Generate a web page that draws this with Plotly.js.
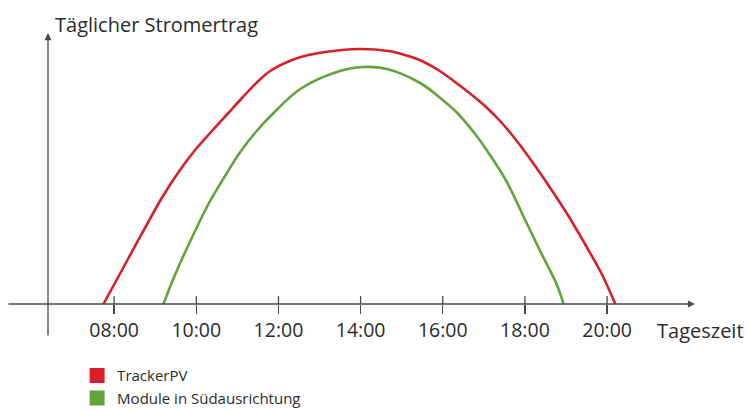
<!DOCTYPE html>
<html>
<head>
<meta charset="utf-8">
<script src="https://cdn.plot.ly/plotly-3.0.1.min.js"></script>
<style>html,body{margin:0;padding:0;background:#fff;}#chart{width:747px;height:410px;}</style>
</head>
<body>
<div id="chart"></div>
<script>
// Tick labels (hours of day)
const tickHours = [8, 10, 12, 14, 16, 18, 20];
const tickLabels = ['08:00', '10:00', '12:00', '14:00', '16:00', '18:00', '20:00'];

// TrackerPV (relative yield, arbitrary units)
const trackerHours = [7.74, 8.02, 8.35, 8.75, 9.16, 9.57, 9.97, 10.38, 10.78, 11.09, 11.51, 11.80, 12.33, 12.73, 13.14, 13.95, 14.68, 15.08, 15.49, 15.89, 16.30, 16.71, 17.08, 17.44, 17.84, 18.25, 18.65, 19.06, 19.46, 19.87, 20.20];
const trackerValues = [0, 21, 46, 76, 106, 132, 154, 173, 191, 205, 223, 233, 244, 249, 252, 255, 253, 249, 243, 234, 222, 209, 196, 181, 161, 138, 114, 88, 60, 30, 0];

// Module in Südausrichtung (relative yield, arbitrary units)
const southHours = [9.20, 9.48, 9.90, 10.31, 10.73, 11.07, 11.47, 11.88, 12.53, 13.42, 14.06, 14.64, 15.45, 15.94, 16.33, 16.75, 17.15, 17.56, 17.96, 18.37, 18.78, 18.94];
const southValues = [0, 29, 67, 101, 130, 152, 173, 191, 215, 232, 237, 235, 221, 206, 192, 172, 149, 122, 88, 53, 19, 0];

const seriesNames = ['TrackerPV', 'Module in Südausrichtung'];
const seriesColors = ['#d7202a', '#62a43c'];

const FONT = 'Open Sans, Noto Sans, sans-serif';
const TXT = '#2b2b2b';
const AX = '#4a4a4a';

const xRange = [6.39, 22.14];
const yRange = [0, 271];

const traces = [
  {x: trackerHours, y: trackerValues, mode: 'lines', line: {color: seriesColors[0], width: 2.6, shape: 'spline', smoothing: 1}, showlegend: false, hoverinfo: 'skip'},
  {x: southHours, y: southValues, mode: 'lines', line: {color: seriesColors[1], width: 2.6, shape: 'spline', smoothing: 1}, showlegend: false, hoverinfo: 'skip'},
  {x: [null], y: [null], mode: 'markers', name: seriesNames[0], marker: {symbol: 'square', size: 15, color: seriesColors[0]}},
  {x: [null], y: [null], mode: 'markers', name: seriesNames[1], marker: {symbol: 'square', size: 15, color: seriesColors[1]}}
];

const tickShapes = tickHours.map(h => ({type: 'line', xref: 'x', yref: 'y', x0: h, x1: h, y0: 0, y1: 8, line: {color: AX, width: 1.3}}));

const layout = {
  width: 747, height: 410,
  margin: {l: 48, r: 52, t: 33, b: 106, autoexpand: false},
  paper_bgcolor: '#fff', plot_bgcolor: '#fff',
  font: {family: FONT, color: TXT},
  title: {text: 'Täglicher Stromertrag', x: 55/747, xanchor: 'left', xref: 'container', y: 1 - 25/410, yanchor: 'middle', yref: 'container', font: {size: 20, color: TXT, family: FONT}},
  xaxis: {range: xRange, tickvals: tickHours, ticktext: tickLabels, ticks: 'outside', ticklen: 9, tickwidth: 1.3, tickcolor: AX,
          showgrid: false, zeroline: false, showline: false, tickfont: {size: 19.5, color: TXT}, fixedrange: true},
  yaxis: {range: yRange, showticklabels: false, showgrid: false, zeroline: false, showline: false, ticks: '', fixedrange: true},
  shapes: tickShapes,
  legend: {x: 0.045, xanchor: 'left', y: -0.2039, yanchor: 'top', orientation: 'v', font: {size: 15, color: TXT}, bgcolor: 'rgba(0,0,0,0)', tracegroupgap: 0},
  annotations: [
    {x: xRange[1], y: 0, xref: 'x', yref: 'y', axref: 'x', ayref: 'y', ax: 5.39, ay: 0, text: '', showarrow: true, arrowhead: 2, arrowsize: 1.1, arrowwidth: 1.3, arrowcolor: AX, standoff: 0},
    {x: xRange[0], y: yRange[1], xref: 'x', yref: 'y', axref: 'x', ayref: 'y', ax: xRange[0], ay: -33, text: '', showarrow: true, arrowhead: 2, arrowsize: 1.1, arrowwidth: 1.3, arrowcolor: AX, standoff: 0},
    {x: (700 - 48) / 647, y: (304 - 330) / 271, xref: 'paper', yref: 'paper', text: 'Tageszeit', showarrow: false, xanchor: 'center', yanchor: 'middle', font: {size: 20, color: TXT}}
  ]
};

Plotly.newPlot('chart', traces, layout, {displayModeBar: false, staticPlot: true});
</script>
</body>
</html>
